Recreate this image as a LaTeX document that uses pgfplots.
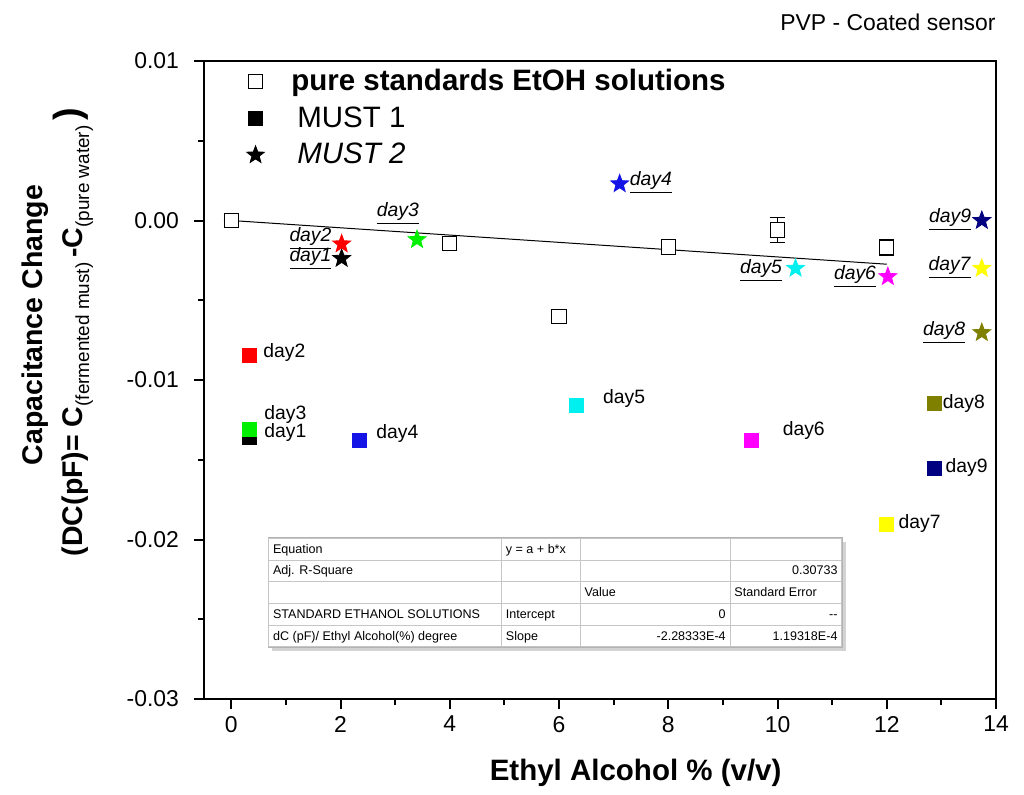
\documentclass[border=0pt]{standalone}
\usepackage{fontspec}
\setmainfont{Liberation Sans}
\usepackage{pgfplots}
\usepackage{pgfplotstable}
\pgfplotsset{compat=1.18}
\usepackage{colortbl}
\usetikzlibrary{shadows}

\definecolor{cblue}{RGB}{20,20,230}
\definecolor{cnavy}{RGB}{0,0,128}
\definecolor{colive}{RGB}{128,128,0}
\definecolor{cgreen}{RGB}{0,240,0}
\definecolor{ccyan}{RGB}{0,240,240}
\definecolor{cmag}{RGB}{255,0,255}
\definecolor{cyel}{RGB}{255,255,0}
\definecolor{cred}{RGB}{255,0,0}

\pgfdeclareplotmark{fstar}{%
\pgfpathmoveto{\pgfpointpolar{90}{\pgfplotmarksize}}%
\pgfpathlineto{\pgfpointpolar{126}{0.42\pgfplotmarksize}}%
\pgfpathlineto{\pgfpointpolar{162}{\pgfplotmarksize}}%
\pgfpathlineto{\pgfpointpolar{198}{0.42\pgfplotmarksize}}%
\pgfpathlineto{\pgfpointpolar{234}{\pgfplotmarksize}}%
\pgfpathlineto{\pgfpointpolar{270}{0.42\pgfplotmarksize}}%
\pgfpathlineto{\pgfpointpolar{306}{\pgfplotmarksize}}%
\pgfpathlineto{\pgfpointpolar{342}{0.42\pgfplotmarksize}}%
\pgfpathlineto{\pgfpointpolar{18}{\pgfplotmarksize}}%
\pgfpathlineto{\pgfpointpolar{54}{0.42\pgfplotmarksize}}%
\pgfpathclose\pgfusepathqfillstroke}

\pgfplotstableread{
x y e
0 0 0
4 -0.00145 0
6 -0.0060 0.0002
8 -0.00165 0.0002
10 -0.0006 0.0008
12 -0.0017 0.0005
}\standards

\pgfplotstableread{
x y c
0.34 -0.01357 d1
0.34 -0.00845 d2
0.34 -0.01309 d3
2.35 -0.01376 d4
6.32 -0.01159 d5
9.52 -0.01376 d6
12.0 -0.01903 d7
12.87 -0.01146 d8
12.87 -0.01554 d9
}\mustone

\pgfplotstableread{
x y c
2.02 -0.00238 d1
2.02 -0.00147 d2
3.40 -0.00120 d3
7.11 0.00230 d4
10.33 -0.00300 d5
12.02 -0.00352 d6
13.74 -0.00300 d7
13.74 -0.00703 d8
13.74 0.00000 d9
}\musttwo

\begin{document}
\begin{tikzpicture}
\begin{axis}[
  width=396bp, height=319bp, scale only axis,
  xmin=-0.5, xmax=14, ymin=-0.03, ymax=0.01,
  xtick={0,2,...,14}, minor x tick num=1,
  ytick={-0.03,-0.02,-0.01,0,0.01},
  yticklabels={-0.03,-0.02,-0.01,0.00,0.01},
  minor y tick num=1,
  scaled y ticks=false,
  tick pos=left, tick align=outside,
  major tick length=5bp, minor tick length=3bp,
  axis line style={line width=1bp},
  every tick/.style={black, line width=1bp},
  ticklabel style={font=\fontsize{11.5}{12}\selectfont},
  yticklabel style={xshift=-4bp},
  /pgf/number format/assume math mode=true,
  clip=false,
  legend style={at={(rel axis cs:0.046,1.0)}, anchor=north west, draw=none, fill=none,
    font=\fontsize{14.8}{18}\selectfont, row sep=2.5bp, column sep=11.5bp},
  legend cell align=left,
]
\addlegendimage{only marks, mark=square, mark size=3.5bp, black, line width=0.5bp}
\addlegendentry{\textbf{pure standards EtOH solutions}}
\addlegendimage{only marks, mark=square*, mark size=3.4bp, black}
\addlegendentry{\hspace{3bp}MUST 1}
\addlegendimage{only marks, mark=fstar, mark size=4.6bp, black}
\addlegendentry{\hspace{3bp}\textit{MUST 2}}

\addplot[black, line width=0.5bp, forget plot] coordinates {(0,0) (12,-0.00274)};

\addplot[only marks, mark=square*, mark size=3.6bp, mark options={fill=white, draw=black, line width=0.5bp},
  forget plot,
  error bars/.cd, y dir=both, y explicit,
  error bar style={black, line width=0.5bp},
  error mark options={rotate=90, mark size=3.8bp, line width=0.5bp, black}]
  table[x=x, y=y, y error=e] {\standards};

\addplot[scatter, only marks, mark=square*, mark size=3.5bp, forget plot,
  scatter src=explicit symbolic,
  scatter/classes={d1={black}, d2={cred}, d3={cgreen}, d4={cblue}, d5={ccyan},
    d6={cmag}, d7={cyel}, d8={colive}, d9={cnavy}}]
  table[x=x, y=y, meta=c] {\mustone};

\addplot[scatter, only marks, mark=fstar, mark size=4.7bp, forget plot,
  scatter src=explicit symbolic,
  scatter/classes={d1={black}, d2={cred}, d3={cgreen}, d4={cblue}, d5={ccyan},
    d6={cmag}, d7={cyel}, d8={colive}, d9={cnavy}}]
  table[x=x, y=y, meta=c] {\musttwo};

% labels MUST 1
\begin{scope}[every node/.style={font=\fontsize{9.7}{11}\selectfont, inner sep=0pt}]
\node[anchor=west] at (axis cs:0.58,-0.00828) {day2};
\node[anchor=west] at (axis cs:0.60,-0.01216) {day3};
\node[anchor=west] at (axis cs:0.60,-0.01329) {day1};
\node[anchor=west] at (axis cs:2.65,-0.01335) {day4};
\node[anchor=west] at (axis cs:6.80,-0.01116) {day5};
\node[anchor=west] at (axis cs:10.09,-0.01317) {day6};
\node[anchor=west] at (axis cs:13.02,-0.01147) {day8};
\node[anchor=west] at (axis cs:13.07,-0.01549) {day9};
\node[anchor=west] at (axis cs:12.21,-0.01900) {day7};
% labels MUST 2
\node[anchor=east] at (axis cs:1.84,-0.00113) {\underline{\textit{day2}}};
\node[anchor=east] at (axis cs:1.84,-0.00238) {\underline{\textit{day1}}};
\node[anchor=center] at (axis cs:3.05,0.00044) {\underline{\textit{day3}}};
\node[anchor=west] at (axis cs:7.29,0.00238) {\underline{\textit{day4}}};
\node[anchor=east] at (axis cs:10.09,-0.00313) {\underline{\textit{day5}}};
\node[anchor=east] at (axis cs:11.81,-0.00351) {\underline{\textit{day6}}};
\node[anchor=east] at (axis cs:13.55,0.00006) {\underline{\textit{day9}}};
\node[anchor=east] at (axis cs:13.55,-0.00295) {\underline{\textit{day7}}};
\node[anchor=east] at (axis cs:13.44,-0.00702) {\underline{\textit{day8}}};
\end{scope}

% fit table
\node[anchor=north west, fill=white, draw=gray!60, inner sep=0pt,
  drop shadow={shadow xshift=2bp, shadow yshift=-2bp, opacity=0.35}]
  at (axis cs:0.67,-0.01987) {%
  \fontsize{6.3}{7.6}\selectfont\renewcommand\arraystretch{1.38}%
  \setlength\tabcolsep{2bp}\arrayrulecolor{gray!45}%
  \begin{tabular}{|p{112bp}|p{35bp}|p{70.5bp}|p{51.5bp}|}\hline
  Equation & y = a + b*x & & \\ \hline
  Adj. R-Square & & & \hfill 0.30733\\ \hline
   & & Value & Standard Error\\ \hline
  STANDARD ETHANOL SOLUTIONS & Intercept & \hfill 0 & \hfill {-}{-}\\ \hline
  dC (pF)/ Ethyl Alcohol(\%) degree & Slope & \hfill -2.28333E-4 & \hfill 1.19318E-4\\ \hline
  \end{tabular}};

% title
\node[anchor=base east, font=\fontsize{11.5}{12}\selectfont, inner sep=0pt]
  at (rel axis cs:1,1.0486) {PVP - Coated sensor};

% x label
\node[anchor=base, font=\bfseries\fontsize{14.8}{16}\selectfont, inner sep=0pt]
  at (rel axis cs:0.545,-0.1285) {Ethyl Alcohol \% (v/v)};

% y label
\node[rotate=90, anchor=base, font=\bfseries\fontsize{14.3}{16}\selectfont, inner sep=0pt]
  at (rel axis cs:-0.2045,0.586) {Capacitance Change};
\node[rotate=90, anchor=base, font=\bfseries\fontsize{14.3}{16}\selectfont, inner sep=0pt]
  at (rel axis cs:-0.154,0.575)
  {(DC(pF)= C{\mdseries\fontsize{9.5}{9.5}\selectfont\raisebox{-3.5bp}{(fermented must)}}\,-C{\mdseries\fontsize{9.5}{9.5}\selectfont\raisebox{-3.5bp}{(pure water)}}\,{\fontsize{19}{19}\selectfont\raisebox{1bp}{)}}};

\path (rel axis cs:0,0) ++(-102bp,-48bp) rectangle ++(512bp,397.5bp);
\end{axis}
\end{tikzpicture}
\end{document}
